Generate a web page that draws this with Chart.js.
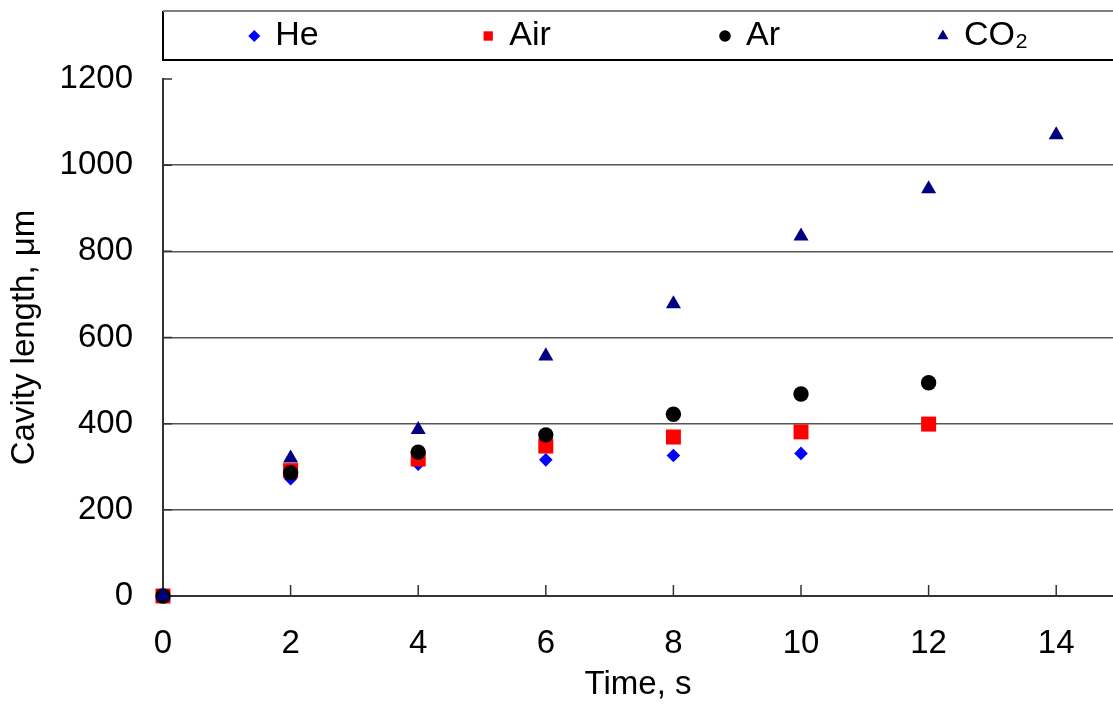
<!DOCTYPE html>
<html>
<head>
<meta charset="utf-8">
<script src="https://cdn.jsdelivr.net/npm/chart.js@4/dist/chart.umd.min.js"></script>
<style>
html,body{margin:0;padding:0;background:#fff;}
#wrap{width:1113px;height:705px;position:relative;overflow:hidden;}
</style>
</head>
<body>
<div id="wrap"><canvas id="c" width="1113" height="705"></canvas></div>
<script>
// ---- data ----
const time = [0, 2, 4, 6, 8, 10, 12, 14];
const heValues  = [0, 272, 306, 316, 326, 331];
const airValues = [0, 291, 318, 348, 369, 381, 399];
const arValues  = [0, 286, 334, 374, 422, 469, 495];
const co2Values = [0, 320, 386, 557, 678, 835, 945, 1070];
const seriesNames = ['He', 'Air', 'Ar', 'CO\u2082'];
const xTicks = [0, 2, 4, 6, 8, 10, 12, 14];
const yTicks = [0, 200, 400, 600, 800, 1000, 1200];
const xTitle = 'Time, s';
const yTitle = 'Cavity length, \u03bcm';

const FONT = '"Liberation Sans", Arial, sans-serif';
const FS = 33;
const LFS = 34;
const toPoints = vals => vals.map((v, i) => ({x: time[i], y: v}));

const legendRadius = {rectRot: 6, rect: 6.6, circle: 5.8, triangle: 6.4};

function drawMarker(ctx, style, x, y, r, color) {
  ctx.save();
  ctx.fillStyle = color;
  if (Chart.helpers && Chart.helpers.drawPoint) {
    Chart.helpers.drawPoint(ctx, {pointStyle: style, radius: r, rotation: 0, borderWidth: 0}, x, y);
  } else {
    ctx.beginPath();
    if (style === 'circle') ctx.arc(x, y, r, 0, Math.PI * 2);
    else if (style === 'rect') { const s = r * Math.SQRT1_2; ctx.rect(x - s, y - s, 2 * s, 2 * s); }
    else if (style === 'rectRot') { ctx.moveTo(x - r, y); ctx.lineTo(x, y - r); ctx.lineTo(x + r, y); ctx.lineTo(x, y + r); ctx.closePath(); }
    else { ctx.moveTo(x, y - r); ctx.lineTo(x + r * 0.866, y + r / 2); ctx.lineTo(x - r * 0.866, y + r / 2); ctx.closePath(); }
    ctx.fill();
  }
  ctx.restore();
}

const decor = {
  id: 'decor',
  beforeDatasetsDraw(chart) {
    const {ctx, chartArea: a} = chart;
    const xs = chart.scales.x, ys = chart.scales.y;
    ctx.save();
    ctx.strokeStyle = '#333';
    ctx.lineWidth = 1.5;
    ctx.beginPath();
    xTicks.forEach(v => {
      if (v === 0) return;
      const px = xs.getPixelForValue(v);
      ctx.moveTo(px, a.bottom);
      ctx.lineTo(px, a.bottom - 11);
    });
    yTicks.forEach(v => {
      if (v === 0) return;
      const py = ys.getPixelForValue(v);
      ctx.moveTo(a.left, py);
      ctx.lineTo(a.left + 9, py);
    });
    ctx.stroke();
    ctx.restore();
  },
  afterDraw(chart) {
    const {ctx, chartArea: a} = chart;
    const top = 11, bottom = 60, left = a.left, right = chart.width + 10;
    ctx.save();
    ctx.lineWidth = 2;
    ctx.strokeStyle = '#000';
    ctx.beginPath();
    ctx.moveTo(right, bottom); ctx.lineTo(left, bottom); ctx.lineTo(left, top);
    ctx.stroke();
    ctx.strokeStyle = '#808080';
    ctx.beginPath();
    ctx.moveTo(left, top); ctx.lineTo(right, top);
    ctx.stroke();
    ctx.font = LFS + 'px ' + FONT;
    ctx.textBaseline = 'middle';
    ctx.textAlign = 'left';
    const slotW = 233, x0 = 167, cy = 36;
    chart.data.datasets.forEach((ds, i) => {
      const tw = ctx.measureText(ds.label).width;
      const center = x0 + slotW * (i + 0.5);
      const mx = center - (27 + tw) / 2 + 6;
      drawMarker(ctx, ds.pointStyle, mx, cy, legendRadius[ds.pointStyle], ds.backgroundColor);
      ctx.fillStyle = '#000';
      ctx.fillText(ds.label, mx + 21, cy);
    });
    ctx.restore();
  }
};

const mk = (label, vals, style, r, color, order) => ({
  label, data: toPoints(vals), pointStyle: style, pointRadius: r, pointHoverRadius: r,
  backgroundColor: color, borderColor: color, borderWidth: 0, order, clip: false
});

new Chart(document.getElementById('c'), {
  type: 'scatter',
  data: {
    datasets: [
      mk(seriesNames[0], heValues, 'rectRot', 6.8, '#0000ff', 4),
      mk(seriesNames[1], airValues, 'rect', 10.6, '#ff0000', 3),
      mk(seriesNames[2], arValues, 'circle', 7.7, '#000000', 2),
      mk(seriesNames[3], co2Values, 'triangle', 8.7, '#000080', 1)
    ]
  },
  options: {
    responsive: false,
    animation: false,
    devicePixelRatio: 1,
    events: [],
    layout: {padding: {top: 79, left: 0, right: 0, bottom: 0}, autoPadding: false},
    plugins: {legend: {display: false}, tooltip: {enabled: false}},
    scales: {
      x: {
        type: 'linear', min: 0, max: 14.89,
        afterBuildTicks: s => { s.ticks = xTicks.map(v => ({value: v})); },
        afterFit: s => { s.height = 109; },
        grid: {display: false, drawTicks: false},
        border: {display: true, color: '#333', width: 2},
        ticks: {font: {family: FONT, size: FS}, color: '#000', padding: 28, maxRotation: 0, autoSkip: false,
                callback: v => String(v)},
        title: {display: true, text: xTitle, color: '#000', font: {family: FONT, size: FS}, padding: {top: 0, bottom: 0}}
      },
      y: {
        type: 'linear', min: 0, max: 1200,
        afterBuildTicks: s => { s.ticks = yTicks.map(v => ({value: v})); },
        afterFit: s => { s.width = 163; },
        grid: {
          drawTicks: false, lineWidth: 1.5,
          color: c => (c.tick && (c.tick.value === 0 || c.tick.value === 1200)) ? 'rgba(0,0,0,0)' : '#555'
        },
        border: {display: true, color: '#333', width: 2},
        ticks: {font: {family: FONT, size: FS}, color: '#000', padding: 30, callback: v => String(v)},
        title: {display: true, text: yTitle, color: '#000', font: {family: FONT, size: FS}, padding: {top: 5, bottom: 0}}
      }
    }
  },
  plugins: [decor]
});
</script>
</body>
</html>
